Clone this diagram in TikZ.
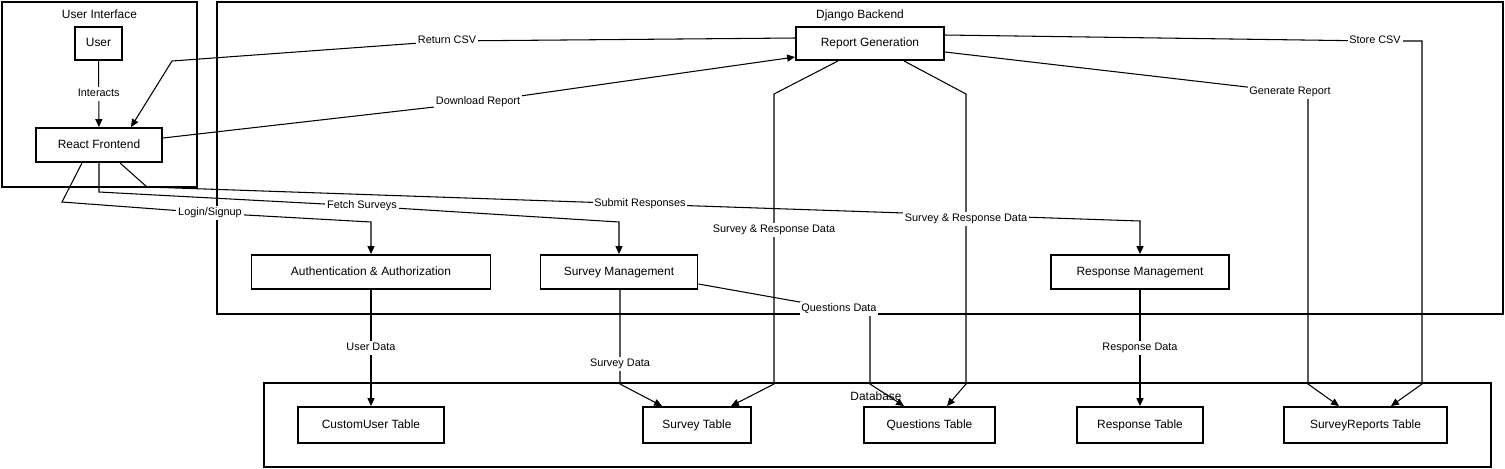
\documentclass[tikz,border=0pt]{standalone}
\usepackage{fontspec}
\setmainfont{Liberation Sans}
\usetikzlibrary{arrows.meta}
\begin{document}
\begin{tikzpicture}[x=0.02cm,y=-0.02cm,
  grp/.style={draw,line width=1.1pt,inner sep=0,outer sep=0},
  box/.style={draw,line width=1.1pt,fill=white,inner sep=0,minimum height=0.68cm,text height=5pt,text depth=1.4pt,font=\fontsize{6.8}{8}\selectfont},
  ttl/.style={inner sep=1pt,text height=5pt,text depth=1.4pt,font=\fontsize{6.8}{8}\selectfont},
  lbl/.style={fill=white,inner sep=1pt,text height=4.6pt,text depth=1.3pt,font=\fontsize{6.2}{7.5}\selectfont},
  con/.style={line width=0.6pt},
  arr/.style={line width=0.6pt,-{Triangle[length=4.5pt,width=4pt]}}]
\useasboundingbox (0,0) rectangle (1505,468);

\node[grp,minimum width=3.9cm,minimum height=3.7cm] (ui) at (99.5,94.5) {};
\node[grp,minimum width=25.72cm,minimum height=6.24cm] (dj) at (860,158) {};
\node[grp,minimum width=24.54cm,minimum height=1.68cm] (db) at (877.5,425) {};
\node[ttl] (uit) at (99.5,15) {User Interface};
\node[ttl] (djt) at (860,15) {Django Backend};
\node[ttl] (dbt) at (876,397) {Database};

\node[box,minimum width=0.94cm,minimum height=0.66cm] (user) at (98.5,43.5) {User};
\node[box,minimum width=2.52cm] (react) at (99,145) {React Frontend};
\node[box,minimum width=2.96cm,minimum height=0.66cm] (rg) at (870,43.5) {Report Generation};
\node[box,minimum width=4.78cm] (auth) at (371,272) {Authentication \& Authorization};
\node[box,minimum width=3.14cm] (sm) at (619,272) {Survey Management};
\node[box,minimum width=3.56cm] (rm) at (1140,272) {Response Management};
\node[box,minimum width=2.92cm,minimum height=0.72cm] (cu) at (371,425) {CustomUser Table};
\node[box,minimum width=2.16cm,minimum height=0.72cm] (st) at (697,425) {Survey Table};
\node[box,minimum width=2.62cm,minimum height=0.72cm] (qt) at (929.5,425) {Questions Table};
\node[box,minimum width=2.52cm,minimum height=0.72cm] (rt) at (1140,425) {Response Table};
\node[box,minimum width=3.26cm,minimum height=0.72cm] (srt) at (1365.5,425) {SurveyReports Table};

\draw[arr] (user) -- node[lbl] {Interacts} (react);
\draw[arr] (rg.west |- 0,38) -- (447,41) node[lbl] {Return CSV} -- (172,61) -- (react.north -| 131,0);
\draw[arr] (react.east |- 0,138) -- (478,102) node[lbl] {Download Report} -- (rg.west |- 0,57);
\draw[arr] (rg.east |- 0,35) -- (1375,41) node[lbl] {Store CSV} -- (1422,41) -- (1422,384) -- (srt.north -| 1391,0);
\draw[arr] (rg.east |- 0,52) -- (1290,92) node[lbl] {Generate Report} -- (1308,93) -- (1308,384) -- (srt.north -| 1339,0);
\draw[arr] (react.south -| 82,0) -- (62,202) -- (210,213) node[lbl] {Login/Signup} -- (371,222) -- (auth);
\draw[arr] (react.south) -- (99,192) -- (362,206) node[lbl] {Fetch Surveys} -- (619,222) -- (sm);
\draw[arr] (react.south -| 120,0) -- (147,187) -- (640,204) node[lbl] {Submit Responses} -- (1140,221) -- (rm);
\draw[arr] (rg.south -| 838,0) -- (774,94) -- (774,230) node[lbl] {Survey \& Response Data} -- (774,384) -- (st.north -| 731,0);
\draw[arr] (rg.south -| 904,0) -- (966,94) -- (966,219) node[lbl] {Survey \& Response Data} -- (966,384) -- (qt.north -| 947,0);
\draw[arr] (sm.east |- 0,284) -- (839,309) node[lbl] {Questions Data} -- (870,315) -- (870,384) -- (qt.north -| 904,0);
\draw[arr] (auth) -- node[lbl] {User Data} (cu);
\draw[arr] (sm.south -| 620,0) -- (620,364) node[lbl] {Survey Data} -- (620,384) -- (st.north -| 662,0);
\draw[arr] (rm) -- node[lbl] {Response Data} (rt);
\end{tikzpicture}
\end{document}
